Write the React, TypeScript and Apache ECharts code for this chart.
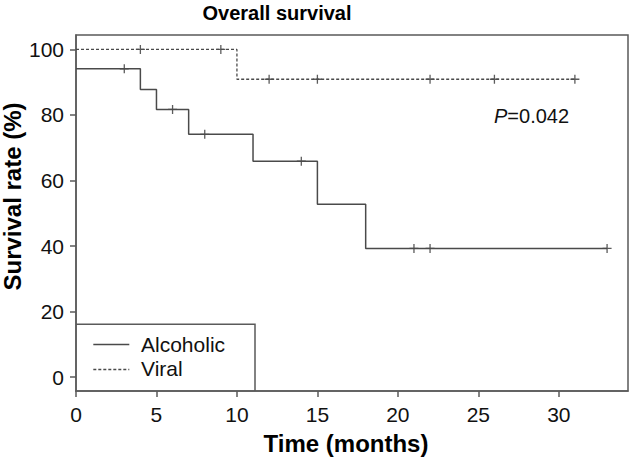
import React, { useEffect, useRef } from "react";
import * as echarts from "echarts";

const alcoholicTimes = [0, 4, 5, 7, 11, 15, 18, 33];
const alcoholicSurv = [94.1, 87.8, 81.7, 74.1, 65.9, 52.8, 39.3, 39.3];
const viralTimes = [0, 10, 31];
const viralSurv = [100, 90.9, 90.9];
const alcoholicCensorTimes = [3, 6, 8, 14, 21, 22, 33];
const alcoholicCensorSurv = [94.1, 81.7, 74.1, 65.9, 39.3, 39.3, 39.3];
const viralCensorTimes = [4, 9, 12, 15, 22, 26, 31];
const viralCensorSurv = [100, 100, 90.9, 90.9, 90.9, 90.9, 90.9];
const xTicks = [0, 5, 10, 15, 20, 25, 30];
const yTicks = [0, 20, 40, 60, 80, 100];
const seriesNames = ["Alcoholic", "Viral"];

const FONT = "'Liberation Sans', Arial, Helvetica, sans-serif";
const AXIS = "#5a5a5a";
const LINE = "#4a4a4a";

const zip = (a: number[], b: number[]) => a.map((v, i) => [v, b[i]]);
const CENSOR = "path://M0,0L0,10M-5,5L5,5";

export default function App() {
  const ref = useRef<HTMLDivElement>(null);
  useEffect(() => {
    if (!ref.current) return;
    const chart = echarts.init(ref.current, undefined, { renderer: "svg" });
    chart.setOption({
      animation: false,
      backgroundColor: "#fff",
      grid: {
        left: 76,
        right: 2,
        top: 35,
        bottom: 67,
        show: true,
        borderColor: AXIS,
        borderWidth: 1.5,
        backgroundColor: "transparent",
      },
      xAxis: {
        type: "value",
        min: 0,
        max: 34.3,
        axisLine: { show: true, onZero: false, lineStyle: { color: AXIS, width: 1.5 } },
        axisTick: { show: true, length: 6, customValues: xTicks, lineStyle: { color: AXIS, width: 1.5 } },
        axisLabel: { customValues: xTicks, margin: 13, fontSize: 21, color: "#111", fontFamily: FONT },
        splitLine: { show: false },
      },
      yAxis: {
        type: "value",
        min: -4.2,
        max: 104.4,
        axisLine: { show: true, onZero: false, lineStyle: { color: AXIS, width: 1.5 } },
        axisTick: { show: true, length: 6, customValues: yTicks, lineStyle: { color: AXIS, width: 1.5 } },
        axisLabel: { customValues: yTicks, margin: 12, fontSize: 21, color: "#111", fontFamily: FONT },
        splitLine: { show: false },
      },
      series: [
        {
          name: seriesNames[0],
          type: "line",
          step: "end",
          showSymbol: false,
          symbol: "none",
          data: zip(alcoholicTimes, alcoholicSurv),
          lineStyle: { color: LINE, width: 1.5, type: "solid" },
        },
        {
          name: seriesNames[1],
          type: "line",
          step: "end",
          showSymbol: false,
          symbol: "none",
          data: zip(viralTimes, viralSurv),
          lineStyle: { color: LINE, width: 1.3, type: [3, 2] },
        },
        {
          name: seriesNames[0] + " censored",
          type: "scatter",
          symbol: CENSOR,
          symbolSize: [9, 9],
          data: zip(alcoholicCensorTimes, alcoholicCensorSurv),
          itemStyle: { color: "transparent", borderColor: "#333", borderWidth: 1.3 },
        },
        {
          name: seriesNames[1] + " censored",
          type: "scatter",
          symbol: CENSOR,
          symbolSize: [9, 9],
          data: zip(viralCensorTimes, viralCensorSurv),
          itemStyle: { color: "transparent", borderColor: "#333", borderWidth: 1.3 },
        },
      ],
      graphic: [
        {
          type: "text",
          x: 277,
          y: 12.5,
          style: {
            text: "Overall survival",
            fontSize: 20,
            fontWeight: "bold",
            fontFamily: FONT,
            fill: "#000",
            align: "center",
            verticalAlign: "middle",
          },
        },
        {
          type: "text",
          x: 346,
          y: 443.5,
          style: {
            text: "Time (months)",
            fontSize: 24,
            fontWeight: "bold",
            fontFamily: FONT,
            fill: "#000",
            align: "center",
            verticalAlign: "middle",
          },
        },
        {
          type: "text",
          x: 12.5,
          y: 196.5,
          rotation: Math.PI / 2,
          style: {
            text: "Survival rate (%)",
            fontSize: 24,
            fontWeight: "bold",
            fontFamily: FONT,
            fill: "#000",
            align: "center",
            verticalAlign: "middle",
          },
        },
        {
          type: "text",
          x: 494,
          y: 116.3,
          style: {
            text: "{i|P}=0.042",
            fontSize: 20,
            fontFamily: FONT,
            fill: "#111",
            align: "left",
            verticalAlign: "middle",
            rich: {
              i: { fontStyle: "italic", fontSize: 20, fontFamily: FONT, fill: "#111" },
            },
          },
        },
        {
          type: "polyline",
          shape: { points: [[76, 324.3], [255, 324.3], [255, 391]] },
          style: { stroke: AXIS, lineWidth: 1.5, fill: "none" },
        },
        {
          type: "line",
          shape: { x1: 93.3, y1: 344.5, x2: 129.3, y2: 344.5 },
          style: { stroke: LINE, lineWidth: 1.5 },
        },
        {
          type: "line",
          shape: { x1: 93.3, y1: 369.5, x2: 129.3, y2: 369.5 },
          style: { stroke: LINE, lineWidth: 1.3, lineDash: [3, 2] },
        },
        {
          type: "text",
          x: 141,
          y: 344.5,
          style: {
            text: seriesNames[0],
            fontSize: 21,
            fontFamily: FONT,
            fill: "#111",
            align: "left",
            verticalAlign: "middle",
          },
        },
        {
          type: "text",
          x: 141,
          y: 368,
          style: {
            text: seriesNames[1],
            fontSize: 21,
            fontFamily: FONT,
            fill: "#111",
            align: "left",
            verticalAlign: "middle",
          },
        },
      ],
    });
    return () => chart.dispose();
  }, []);
  return (
    <div
      ref={ref}
      style={{ position: "fixed", left: 0, top: 0, width: 630, height: 458 }}
    />
  );
}
